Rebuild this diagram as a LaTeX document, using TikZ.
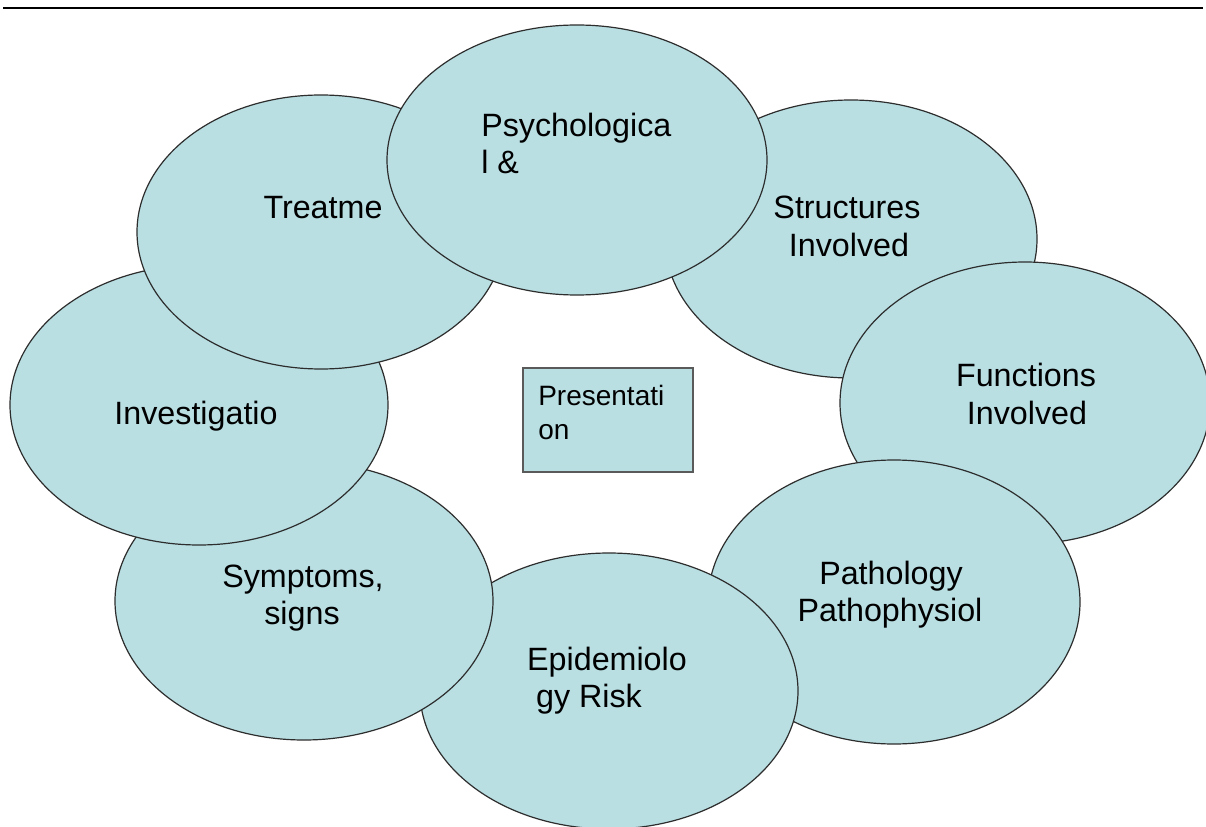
\documentclass[tikz,border=0pt]{standalone}
\usepackage{fontspec}
\setmainfont{Liberation Sans}
\usetikzlibrary{shapes.geometric}
\definecolor{blobfill}{RGB}{185,223,227}
\definecolor{blobline}{RGB}{45,45,45}
\definecolor{boxline}{RGB}{90,90,90}
\tikzset{
  blob/.style={ellipse, draw=blobline, line width=0.9pt, fill=blobfill, inner sep=0pt},
  centrebox/.style={rectangle, draw=boxline, line width=1.1pt, fill=blobfill, inner sep=0pt,
    minimum width=127.5pt, minimum height=78pt},
  lbl/.style={inner sep=0pt, font=\fontsize{24.2}{28}\selectfont, anchor=base},
  lblw/.style={lbl, anchor=base west},
  smalllbl/.style={inner sep=0pt, font=\fontsize{21}{25}\selectfont, anchor=base west}
}
\begin{document}
\begin{tikzpicture}[x=0.75pt,y=-0.75pt]
\useasboundingbox (0,0) rectangle (1206,827);
\clip (0,0) rectangle (1206,827);
\fill[white] (0,0) rectangle (1206,827);
\coordinate (topl) at (3,8);
\coordinate (topr) at (1203,8);
\draw[line width=1.5pt, black] (topl) -- (topr);
% ellipses in stacking order
\node[blob, minimum width=279pt, minimum height=208.5pt] (struct) at (851,239) {};
\node[blob, minimum width=277.5pt, minimum height=211.5pt] (func) at (1025,403) {};
\node[blob, minimum width=279pt, minimum height=213pt] (path) at (894,602) {};
\node[blob, minimum width=283.5pt, minimum height=207pt] (epi) at (609,691) {};
\node[blob, minimum width=283.5pt, minimum height=208.5pt] (symp) at (304,601) {};
\node[blob, minimum width=283.5pt, minimum height=210pt] (inv) at (199,405) {};
\node[blob, minimum width=276pt, minimum height=205.5pt] (treat) at (321,232) {};
\node[blob, minimum width=285pt, minimum height=202.5pt] (psych) at (577,160) {};
\node[centrebox] (pres) at (608,420) {};
% labels
\node[lblw] (psychA) at (481,137) {Psychologica};
\node[lblw] (psychB) at (481,174) {l \&};
\node[lbl] (treatA) at (323,219) {Treatme};
\node[lbl] (structA) at (847,219) {Structures};
\node[lbl] (structB) at (849,257) {Involved};
\node[lbl] (funcA) at (1026,386) {Functions};
\node[lbl] (funcB) at (1027,424) {Involved};
\node[lbl] (invA) at (196,424) {Investigatio};
\node[smalllbl] (presA) at (538,405) {Presentati};
\node[smalllbl] (presB) at (538,439) {on};
\node[lbl] (sympA) at (303,587) {Symptoms,};
\node[lbl] (sympB) at (302,624) {signs};
\node[lbl] (pathA) at (891,584) {Pathology};
\node[lbl] (pathB) at (890,621) {Pathophysiol};
\node[lbl] (epiA) at (607,670) {Epidemiolo};
\node[lbl] (epiB) at (589,707) {gy Risk};
\end{tikzpicture}
\end{document}
